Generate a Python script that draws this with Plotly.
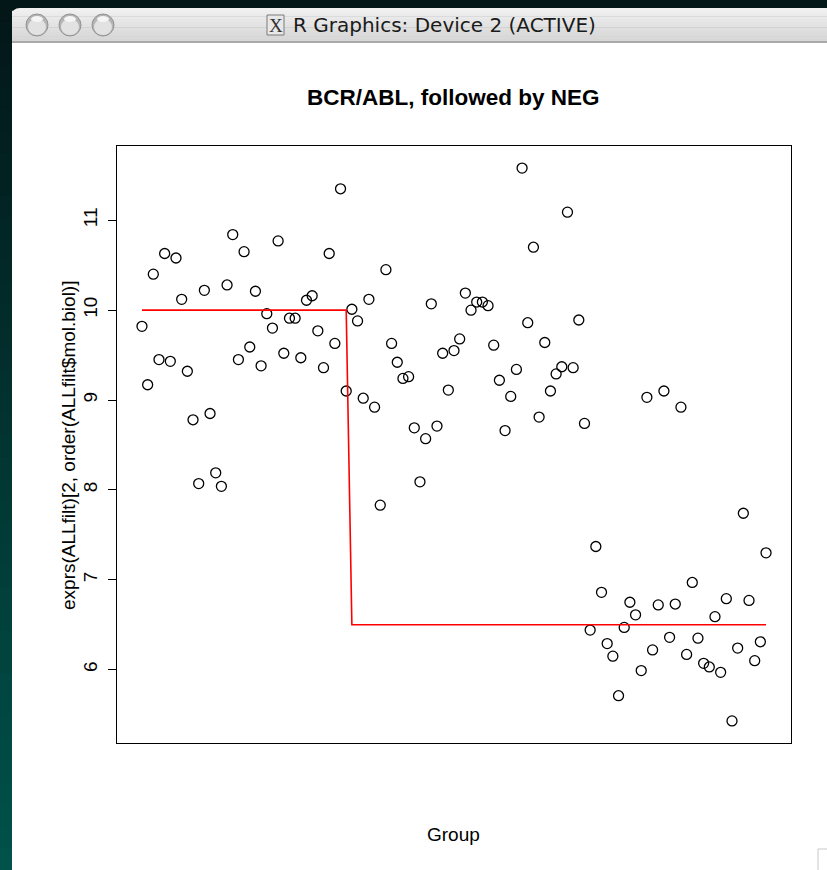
import plotly.graph_objects as go

# ---- data ----
group_names = ["BCR/ABL", "NEG"]
group_sizes = [37, 74]
group_levels = [10.0, 6.5]

expr_values = [
    9.82, 9.17, 10.40, 9.45, 10.63, 9.43, 10.58, 10.12, 9.32, 8.78,
    8.07, 10.22, 8.85, 8.19, 8.04, 10.28, 10.84, 9.45, 10.65, 9.59,
    10.21, 9.38, 9.96, 9.80, 10.77, 9.52, 9.91, 9.91, 9.47, 10.11,
    10.16, 9.77, 9.36, 10.63, 9.63, 11.35, 9.10,
    10.01, 9.88, 9.02, 10.12, 8.92, 7.83, 10.45, 9.63, 9.42, 9.24,
    9.26, 8.69, 8.09, 8.57, 10.07, 8.71, 9.52, 9.11, 9.55, 9.68,
    10.19, 10.00, 10.09, 10.09, 10.05, 9.61, 9.22, 8.66, 9.04, 9.34,
    11.58, 9.86, 10.70, 8.81, 9.64, 9.10, 9.29, 9.37, 11.09, 9.36,
    9.89, 8.74, 6.44, 7.37, 6.86, 6.29, 6.15, 5.71, 6.47, 6.75,
    6.61, 5.99, 9.03, 6.22, 6.72, 9.10, 6.36, 6.73, 8.92, 6.17,
    6.97, 6.35, 6.07, 6.03, 6.59, 5.97, 6.79, 5.43, 6.24, 7.74,
    6.77, 6.10, 6.31, 7.30,
]
index = list(range(1, len(expr_values) + 1))
red_line = []
for lvl, n in zip(group_levels, group_sizes):
    red_line += [lvl] * n

y_ticks = [6, 7, 8, 9, 10, 11]

# ---- layout geometry (pixels) ----
WIDTH, HEIGHT = 827, 870
L, R, T, B = 117, 791, 146, 743
PW, PH = R - L, B - T


def fx(px):
    return (px - L) / PW


def fy(py):
    return (B - py) / PH


fig = go.Figure()
fig.add_trace(go.Scatter(
    x=index, y=expr_values, mode="markers",
    marker=dict(symbol="circle-open", size=10, color="black",
                line=dict(width=1.3, color="black")),
    showlegend=False, hoverinfo="x+y"))
fig.add_trace(go.Scatter(
    x=index, y=red_line, mode="lines",
    line=dict(color="#ff0000", width=1.6),
    showlegend=False, hoverinfo="skip"))

xn = len(expr_values)
xpad = (xn - 1) * 0.04
ymin, ymax = min(expr_values), max(expr_values)
ypad = (ymax - ymin) * 0.04

shapes = []
# desktop background gradient
steps = 40
c0 = (3, 22, 24)
c1 = (0, 82, 74)
for i in range(steps):
    t = i / (steps - 1)
    col = tuple(int(round(c0[k] + (c1[k] - c0[k]) * t)) for k in range(3))
    y0 = i * HEIGHT / steps
    y1 = (i + 1) * HEIGHT / steps + 1
    shapes.append(dict(type="rect", xref="paper", yref="paper",
                       x0=fx(0), x1=fx(WIDTH), y0=fy(y1), y1=fy(y0),
                       fillcolor="rgb(%d,%d,%d)" % col, line=dict(width=0),
                       layer="below"))

# window body
shapes.append(dict(type="rect", xref="paper", yref="paper",
                   x0=fx(12), x1=fx(WIDTH + 2), y0=fy(HEIGHT + 2), y1=fy(30),
                   fillcolor="white", line=dict(width=0), layer="below"))

# title bar with rounded top-left corner, gradient
bar_top, bar_bot = 8, 41
nb = 12
g0, g1 = 240, 214
for i in range(nb):
    t = i / (nb - 1)
    g = int(round(g0 + (g1 - g0) * t))
    ya = bar_top + i * (bar_bot - bar_top) / nb
    yb = bar_top + (i + 1) * (bar_bot - bar_top) / nb + 0.5
    if i == 0:
        r = 8
        path = ("M %f,%f L %f,%f L %f,%f L %f,%f Q %f,%f %f,%f Z" % (
            fx(12), fy(yb), fx(WIDTH + 2), fy(yb), fx(WIDTH + 2), fy(ya),
            fx(12 + r), fy(ya), fx(12), fy(ya), fx(12), fy(ya + r)))
        shapes.append(dict(type="path", xref="paper", yref="paper", path=path,
                           fillcolor="rgb(%d,%d,%d)" % (g, g, g),
                           line=dict(width=0), layer="below"))
    else:
        shapes.append(dict(type="rect", xref="paper", yref="paper",
                           x0=fx(12), x1=fx(WIDTH + 2), y0=fy(yb), y1=fy(ya),
                           fillcolor="rgb(%d,%d,%d)" % (g, g, g),
                           line=dict(width=0), layer="below"))
# bottom edge of title bar
shapes.append(dict(type="rect", xref="paper", yref="paper",
                   x0=fx(12), x1=fx(WIDTH + 2), y0=fy(43), y1=fy(41),
                   fillcolor="#a9a9a9", line=dict(width=0), layer="below"))

# traffic-light buttons (graphite, inactive)
for cx in (37, 70, 103):
    cy, rr = 25, 11
    shapes.append(dict(type="circle", xref="paper", yref="paper",
                       x0=fx(cx - rr), x1=fx(cx + rr), y0=fy(cy + rr), y1=fy(cy - rr),
                       fillcolor="#b4b4b4", line=dict(color="#939393", width=1),
                       layer="below"))
    shapes.append(dict(type="circle", xref="paper", yref="paper",
                       x0=fx(cx - 9), x1=fx(cx + 9), y0=fy(cy + 10), y1=fy(cy - 6),
                       fillcolor="#e2e2e2", line=dict(width=0), layer="below"))
    shapes.append(dict(type="circle", xref="paper", yref="paper",
                       x0=fx(cx - 6), x1=fx(cx + 6), y0=fy(cy - 3), y1=fy(cy - 9),
                       fillcolor="#f5f5f5", line=dict(width=0), layer="below"))

# X11 icon
shapes.append(dict(type="rect", xref="paper", yref="paper",
                   x0=fx(267), x1=fx(284), y0=fy(35), y1=fy(15),
                   fillcolor="#e8e8e8", line=dict(color="#7a7a7a", width=1),
                   layer="below"))
# resize grip
shapes.append(dict(type="rect", xref="paper", yref="paper",
                   x0=fx(818), x1=fx(830), y0=fy(873), y1=fy(849),
                   fillcolor="white", line=dict(color="#c8c8c8", width=1),
                   layer="below"))

annotations = [
    dict(text="X", x=fx(275.5), y=fy(25.5), xref="paper", yref="paper",
         showarrow=False, xanchor="center", yanchor="middle",
         font=dict(family="Liberation Serif, serif", size=19, color="#333")),
    dict(text="R Graphics: Device 2 (ACTIVE)", x=fx(291), y=fy(25),
         xref="paper", yref="paper", showarrow=False,
         xanchor="left", yanchor="middle",
         font=dict(family="DejaVu Sans, sans-serif", size=20, color="#1a1a1a")),
    dict(text="<b>BCR/ABL, followed by NEG</b>", x=fx(453), y=fy(97),
         xref="paper", yref="paper", showarrow=False,
         xanchor="center", yanchor="middle",
         font=dict(family="Liberation Sans, Arial, sans-serif", size=22.5, color="black")),
    dict(text="Group", x=fx(453), y=fy(834),
         xref="paper", yref="paper", showarrow=False,
         xanchor="center", yanchor="middle",
         font=dict(family="Liberation Sans, Arial, sans-serif", size=19, color="black")),
    dict(text="exprs(ALLfilt)[2, order(ALLfilt$mol.biol)]", x=fx(68), y=fy(446),
         xref="paper", yref="paper", showarrow=False, textangle=-90,
         xanchor="center", yanchor="middle",
         font=dict(family="Liberation Sans, Arial, sans-serif", size=19, color="black")),
]

fig.update_layout(
    width=WIDTH, height=HEIGHT,
    margin=dict(l=L, r=WIDTH - R, t=T, b=HEIGHT - B, autoexpand=False),
    paper_bgcolor="white", plot_bgcolor="white",
    shapes=shapes, annotations=annotations,
    xaxis=dict(range=[1 - xpad, xn + xpad], showgrid=False, zeroline=False,
               showticklabels=False, ticks="", showline=True, mirror=True,
               linecolor="black", linewidth=1),
    yaxis=dict(range=[ymin - ypad, ymax + ypad], showgrid=False, zeroline=False,
               tickvals=y_ticks, ticktext=[str(v) for v in y_ticks],
               ticks="outside", ticklen=8, tickwidth=1, tickcolor="black",
               tickangle=-90, ticklabelstandoff=3,
               tickfont=dict(family="Liberation Sans, Arial, sans-serif", size=19, color="black"),
               showline=True, mirror=True, linecolor="black", linewidth=1),
)

fig.write_html("out.html", config={"displayModeBar": False},
               post_script="document.body.style.margin='0';document.body.style.overflow='hidden';")
